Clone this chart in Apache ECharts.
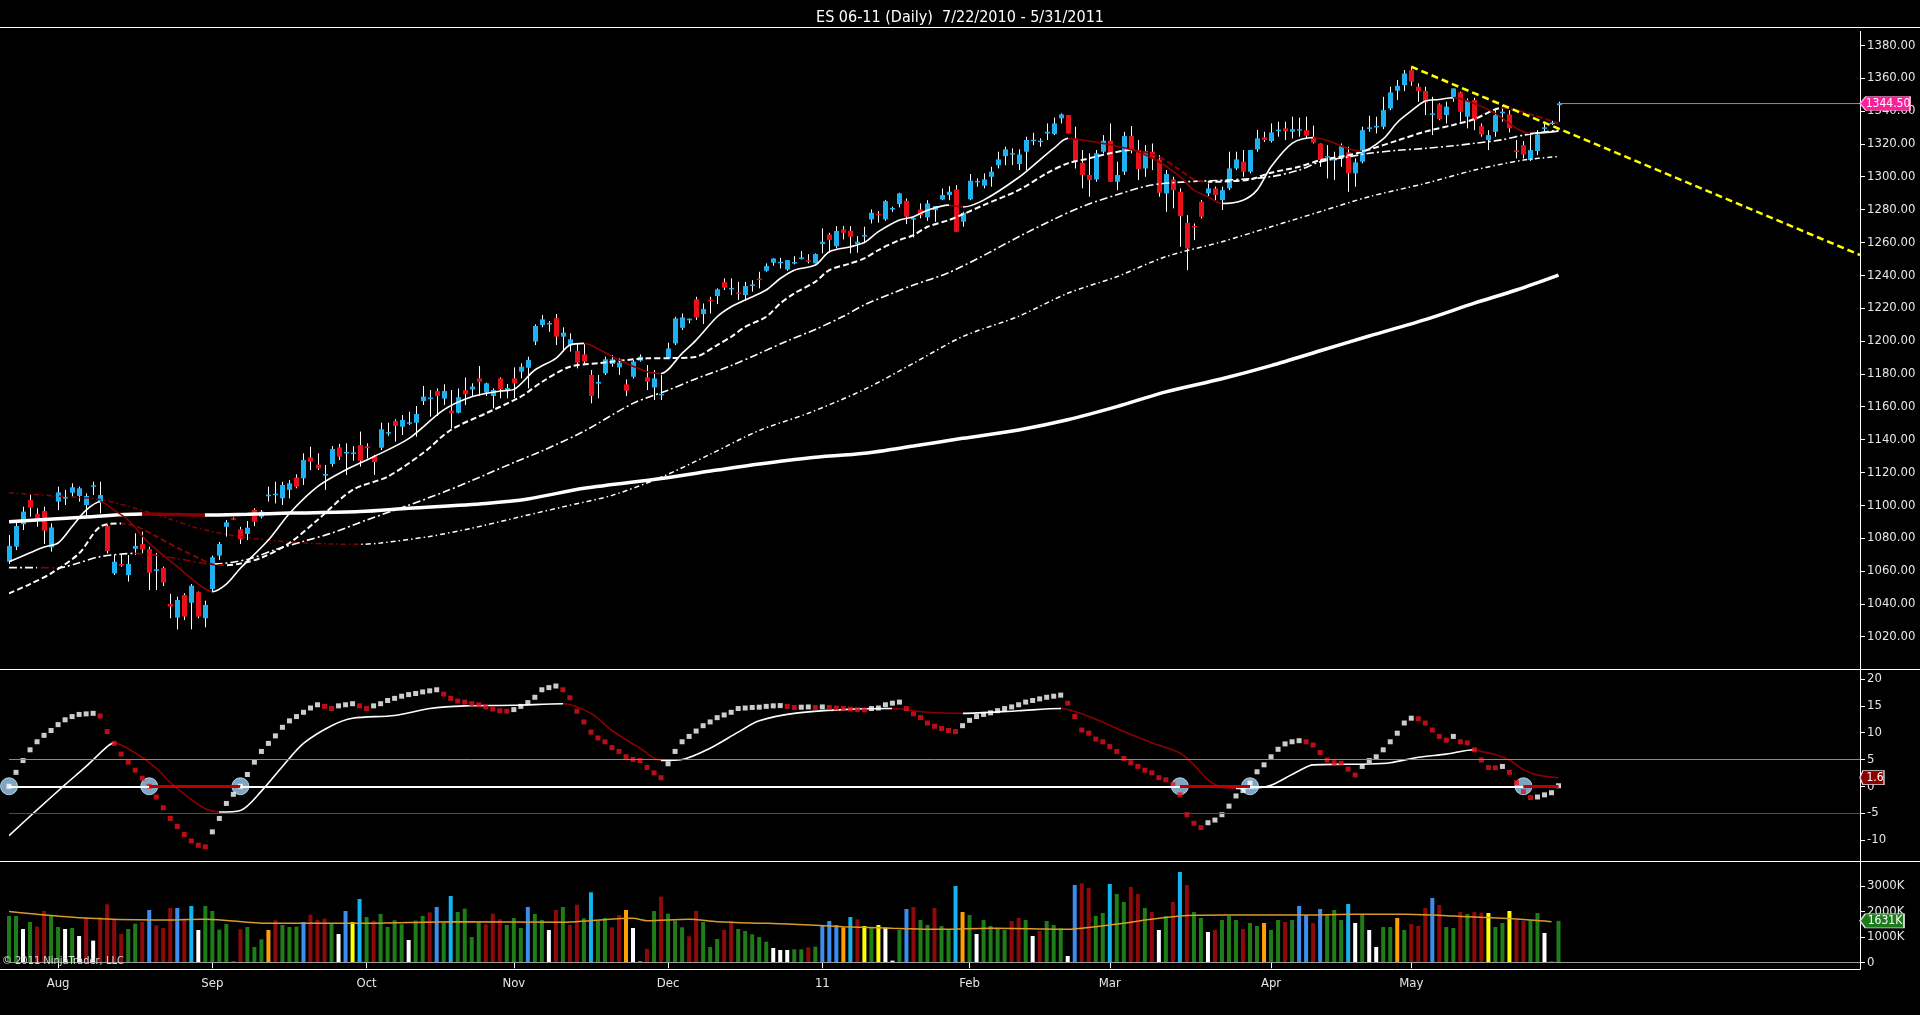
<!DOCTYPE html>
<html>
<head>
<meta charset="utf-8">
<title>ES 06-11 (Daily)</title>
<script src="https://cdn.jsdelivr.net/npm/echarts@6/dist/echarts.min.js"></script>
<style>
  html, body { margin: 0; padding: 0; background: #000; }
  #chart { width: 1920px; height: 1015px; }
</style>
</head>
<body>
<div id="chart"></div>
<script type="text/javascript">
var FONT = "'Liberation Sans Narrow', 'DejaVu Sans Condensed', 'Liberation Sans', Arial, sans-serif";

// sessions shown on the chart (CME holidays with a Globex session are kept)
var firstDay = '2010-07-22', lastDay = '2011-05-31';
var closedDays = ['2010-12-24', '2011-04-22'];
var axisEnd = 264;

var open = [
  1065.6,1074.8,1088.4,1103.2,1094.7,1096.5,1074.4,1102.2,1104.0,1107.6,
  1105.6,1100.1,1111.7,1102.2,1087.3,1058.5,1064.2,1057.5,1073.5,1076.4,
  1073.3,1060.0,1061.8,1039.9,1031.6,1045.4,1040.7,1047.0,1031.2,1049.0,
  1069.3,1086.9,1092.0,1085.3,1082.5,1097.1,1093.0,1106.0,1106.6,1104.2,
  1109.3,1116.8,1116.4,1129.1,1124.7,1118.0,1125.1,1135.2,1132.0,1131.8,
  1136.6,1135.8,1130.0,1135.0,1144.0,1151.3,1147.8,1150.0,1150.2,1163.4,
  1165.0,1169.5,1164.9,1157.6,1156.3,1170.1,1170.5,1177.2,1168.5,1166.5,
  1177.2,1170.1,1177.2,1181.3,1183.7,1199.6,1209.7,1210.5,1213.8,1202.6,
  1197.5,1193.9,1191.8,1179.3,1174.0,1180.3,1186.0,1183.9,1173.6,1178.2,
  1188.0,1177.8,1171.7,1167.4,1189.4,1198.5,1208.0,1213.1,1225.3,1216.4,
  1225.1,1227.3,1235.8,1232.0,1229.5,1227.9,1234.0,1238.0,1242.7,1247.6,
  1247.8,1243.5,1247.6,1250.4,1249.0,1247.2,1259.0,1264.8,1257.7,1267.9,
  1267.1,1258.9,1264.0,1274.0,1277.4,1274.0,1280.5,1283.3,1285.3,1274.0,
  1280.0,1275.2,1279.6,1286.1,1288.8,1292.2,1272.6,1286.2,1297.0,1294.5,
  1299.9,1307.0,1312.5,1314.0,1307.7,1315.2,1322.1,1321.5,1326.3,1325.9,
  1335.5,1337.5,1323.3,1308.5,1301.0,1298.3,1315.2,1321.9,1296.9,1303.0,
  1324.7,1316.2,1305.0,1315.2,1310.5,1289.8,1298.3,1290.8,1271.9,1270.0,
  1284.7,1289.8,1292.8,1285.7,1292.9,1305.0,1309.1,1303.0,1316.6,1323.9,
  1321.7,1328.2,1329.4,1327.3,1328.5,1328.3,1324.3,1320.2,1312.0,1310.0,
  1311.1,1314.8,1302.0,1309.1,1329.6,1330.5,1330.4,1341.5,1352.3,1355.7,
  1364.9,1354.7,1352.1,1338.0,1344.0,1337.5,1348.6,1351.3,1336.5,1346.6,
  1330.8,1322.3,1327.3,1339.0,1337.9,1316.0,1319.2,1310.1,1315.6,1329.4,
  1332.0,1343.5
];
var high = [
  1081.9,1091.0,1099.1,1106.2,1098.1,1099.1,1089.0,1111.3,1109.3,1113.3,
  1111.3,1107.2,1114.3,1114.3,1088.0,1069.7,1069.7,1069.7,1082.9,1083.9,
  1074.8,1071.0,1062.6,1046.0,1044.3,1046.4,1052.0,1047.4,1041.9,1069.3,
  1077.6,1091.0,1092.5,1086.9,1090.4,1098.1,1097.1,1111.3,1114.3,1114.3,
  1115.3,1118.8,1131.6,1135.6,1131.6,1124.5,1136.0,1137.3,1137.7,1136.0,
  1144.8,1137.7,1130.6,1150.2,1150.2,1152.3,1154.9,1156.9,1160.4,1172.6,
  1170.1,1171.1,1173.6,1170.1,1171.1,1177.8,1174.2,1184.7,1174.6,1171.1,
  1177.8,1173.8,1183.9,1186.4,1190.4,1210.1,1215.8,1212.1,1216.4,1208.3,
  1204.6,1198.5,1198.5,1182.3,1179.3,1190.4,1191.4,1189.4,1176.6,1188.4,
  1191.8,1185.3,1182.3,1179.2,1198.9,1214.7,1216.7,1213.7,1226.9,1222.8,
  1226.9,1232.0,1238.1,1238.1,1236.0,1236.0,1237.0,1242.1,1247.2,1250.2,
  1250.6,1249.2,1251.6,1254.7,1252.8,1253.3,1268.5,1265.8,1269.9,1269.9,
  1269.9,1263.8,1269.5,1280.1,1279.0,1285.7,1281.7,1290.2,1286.7,1275.2,
  1283.7,1285.7,1282.1,1292.8,1294.2,1294.9,1278.6,1301.6,1298.9,1302.0,
  1306.0,1315.2,1318.2,1317.2,1316.6,1324.3,1326.7,1323.3,1332.4,1335.9,
  1338.5,1337.5,1330.4,1316.2,1314.2,1316.2,1325.3,1332.4,1309.1,1327.3,
  1330.8,1322.3,1319.2,1320.2,1313.1,1304.0,1299.9,1292.9,1276.6,1271.5,
  1285.7,1295.9,1293.9,1293.9,1315.2,1315.2,1316.2,1316.2,1328.4,1327.3,
  1332.4,1333.4,1333.4,1336.5,1335.9,1336.5,1331.0,1320.2,1319.2,1315.2,
  1320.2,1318.2,1311.1,1330.4,1337.1,1336.5,1348.6,1354.7,1358.8,1364.9,
  1366.9,1356.8,1354.7,1348.6,1344.6,1345.6,1353.7,1351.7,1347.6,1348.0,
  1332.4,1328.3,1340.5,1343.6,1340.5,1322.3,1321.7,1325.3,1328.3,1333.4,
  1334.0,1345.6
];
var low = [
  1064.2,1072.7,1084.9,1093.0,1086.9,1076.4,1071.7,1097.1,1100.1,1105.2,
  1102.2,1093.0,1106.2,1095.1,1070.7,1057.5,1062.6,1053.5,1069.7,1070.7,
  1048.4,1048.4,1050.8,1031.2,1024.4,1030.1,1024.4,1031.2,1025.7,1047.4,
  1066.7,1080.9,1091.0,1076.4,1078.8,1087.3,1092.0,1102.2,1101.1,1100.1,
  1104.2,1110.3,1112.3,1121.4,1121.4,1109.3,1123.5,1127.5,1118.4,1127.1,
  1123.5,1128.5,1118.4,1133.6,1142.3,1138.7,1142.7,1148.8,1141.7,1161.0,
  1153.9,1154.3,1161.0,1146.8,1155.9,1161.0,1166.5,1166.5,1166.5,1159.0,
  1165.1,1165.1,1165.1,1177.2,1171.1,1197.5,1208.3,1205.6,1197.5,1193.5,
  1193.5,1183.3,1185.3,1162.0,1165.1,1179.3,1184.3,1179.3,1166.5,1177.2,
  1187.4,1170.1,1164.0,1164.0,1189.4,1197.5,1206.6,1210.7,1212.7,1210.3,
  1216.7,1222.4,1231.0,1227.9,1224.9,1224.3,1230.0,1232.0,1242.1,1245.8,
  1244.1,1242.7,1246.6,1249.6,1247.2,1247.2,1253.3,1253.7,1256.3,1261.8,
  1253.3,1253.7,1259.4,1271.5,1272.0,1273.1,1278.6,1281.3,1271.1,1263.0,
  1274.6,1273.1,1272.5,1285.7,1285.7,1266.5,1269.5,1285.7,1293.9,1292.9,
  1293.9,1305.0,1307.0,1307.0,1304.0,1304.0,1319.2,1318.2,1322.3,1325.3,
  1332.4,1326.3,1305.0,1292.9,1287.8,1296.9,1314.2,1296.9,1291.8,1301.0,
  1314.2,1297.9,1299.9,1304.0,1287.8,1278.6,1280.7,1257.3,1243.1,1261.4,
  1274.6,1288.2,1285.7,1279.7,1291.8,1304.0,1299.9,1302.0,1315.2,1321.2,
  1320.8,1324.3,1322.3,1323.3,1324.3,1323.3,1320.2,1306.0,1298.9,1297.9,
  1306.0,1290.8,1293.9,1308.1,1327.3,1326.3,1329.0,1340.5,1346.6,1352.1,
  1355.3,1345.6,1337.5,1325.3,1334.4,1332.4,1345.6,1333.4,1329.4,1328.3,
  1324.3,1316.2,1324.3,1333.4,1326.9,1311.1,1311.1,1309.5,1313.1,1326.9,
  1331.5,1333.4
];
var close = [
  1075.2,1087.3,1096.1,1098.5,1091.6,1084.5,1086.5,1107.8,1105.0,1110.9,
  1110.3,1105.6,1112.1,1106.2,1072.1,1065.6,1063.4,1064.2,1075.2,1073.1,
  1058.9,1061.0,1052.9,1038.3,1042.3,1032.2,1051.0,1032.2,1039.3,1068.3,
  1076.4,1089.6,1091.4,1079.2,1086.3,1090.0,1096.1,1106.4,1107.0,1112.3,
  1113.3,1111.3,1127.5,1126.5,1122.5,1119.0,1134.2,1129.5,1132.4,1132.1,
  1127.1,1134.8,1126.3,1146.2,1144.5,1148.2,1151.9,1150.5,1155.5,1166.1,
  1165.5,1166.5,1169.5,1155.9,1165.7,1167.5,1172.2,1175.2,1174.2,1170.1,
  1170.7,1171.3,1174.2,1184.3,1188.4,1209.1,1213.1,1210.9,1202.6,1205.0,
  1201.0,1186.8,1187.4,1166.5,1175.0,1188.8,1188.8,1186.8,1169.7,1187.4,
  1190.4,1175.2,1177.2,1167.8,1195.4,1213.7,1214.3,1213.5,1214.3,1219.4,
  1224.9,1231.4,1232.4,1232.3,1229.1,1233.4,1234.4,1237.6,1245.6,1250.2,
  1248.2,1249.2,1248.0,1250.8,1248.6,1252.9,1260.4,1261.4,1266.9,1265.8,
  1263.4,1260.4,1264.4,1278.0,1277.0,1285.1,1280.9,1289.8,1275.6,1274.8,
  1276.6,1283.7,1282.1,1288.8,1290.8,1266.5,1278.0,1297.5,1297.4,1298.3,
  1303.0,1310.5,1316.6,1314.3,1313.5,1322.3,1322.5,1321.9,1327.3,1332.4,
  1337.9,1326.3,1309.1,1301.0,1297.9,1314.2,1321.9,1296.9,1301.0,1324.7,
  1316.2,1304.6,1315.6,1311.1,1290.2,1301.6,1291.8,1276.0,1256.3,1269.5,
  1275.6,1292.8,1288.8,1291.8,1305.0,1310.5,1303.0,1316.2,1323.3,1322.3,
  1326.9,1328.6,1327.7,1328.9,1328.9,1324.9,1320.8,1310.1,1312.5,1310.8,
  1318.8,1302.0,1308.7,1328.3,1330.0,1330.9,1340.5,1351.3,1355.3,1362.8,
  1357.8,1352.1,1345.2,1338.5,1335.0,1342.6,1353.7,1339.5,1346.0,1334.4,
  1325.7,1325.3,1337.5,1339.5,1329.4,1315.0,1313.5,1316.2,1325.7,1330.0,
  1333.0,1344.5
];

// moving averages as [bar, value]
var ma10 = [[0,1065.6],[3,1071],[5,1074.5],[7,1077],[9,1087],[11,1097],[13,1102.1],[15,1097],[17,1091],[20,1076.8],
  [24,1062.6],[27,1052],[29,1047.4],[31,1052],[33,1061.6],[37,1078.8],[40,1095],[44,1111.3],[48,1121.4],[52,1129.5],
  [57,1140.5],[62,1158],[66,1166],[70,1169.5],[72,1170.5],[75,1182.3],[78,1189.4],[80,1197.5],[82,1198.5],[85,1193],
  [87,1188.4],[91,1181.3],[93,1180.2],[96,1192.4],[98,1200.5],[101,1214.7],[103,1220.8],[105,1224.9],[108,1231],[110,1238],
  [112,1243.1],[115,1246.2],[117,1254.3],[120,1257.3],[122,1260],[124,1266.5],[127,1273.6],[129,1275.6],[131,1279.6],[134,1282.7],
  [135,1282.1],[136,1281.5],[139,1285.7],[144,1299.5],[147,1310.1],[149,1317.2],[151,1323.3],[153,1322.3],[156,1320.2],[158,1318.6],
  [161,1315.2],[164,1309.1],[167,1300],[169,1291.8],[171,1287.8],[173,1283.7],[176,1285.7],[178,1291.8],[180,1306],[183,1320.3],
  [186,1323.8],[188,1322],[191,1317.2],[193,1315.5],[196,1323],[198,1333],[200,1340],[202,1346],[204,1347],[206,1348],
  [209,1344.6],[212,1338.5],[215,1329.5],[217,1326.3],[219,1326.8],[221,1327.7]];
var ma20 = [[0,1046.3],[3,1052],[6,1058.5],[10,1070.7],[13,1086.9],[16,1088.9],[18,1087.4],[21,1081],[24,1074],[27,1068],
  [29,1064.0],[31,1063.5],[33,1064.5],[36,1068],[40,1077],[44,1091],[49,1109.3],[54,1117.4],[59,1131.6],[63,1145.8],
  [68,1155.9],[73,1166.1],[76,1175],[80,1184.3],[84,1186.4],[91,1189.4],[95,1189.6],[98,1190.4],[101,1197.5],[103,1202.5],
  [105,1208.6],[108,1214.7],[110,1222.8],[112,1228.9],[115,1236],[117,1243.1],[120,1247.2],[122,1250.2],[124,1255.3],[127,1261.4],
  [129,1264.4],[131,1269.5],[134,1273.5],[136,1277],[139,1282.7],[144,1291.8],[148,1302],[151,1308.1],[154,1311.1],[157,1314.2],
  [160,1316.2],[164,1312.1],[167,1304],[169,1298.3],[171,1296.9],[174,1297.2],[177,1298.3],[180,1302.4],[184,1306],[187,1310],
  [191,1313],[194,1316.5],[198,1322],[202,1327.4],[206,1331.5],[209,1335],[213,1341.9],[217,1338],[221,1332.4]];
var ma50 = [[0,1062.0],[4,1062.0],[7,1061.9],[10,1065],[13,1068.7],[18,1070.7],[24,1067.5],[29,1064.2],[34,1067],[38,1073],
  [42,1078],[46,1083],[51,1091],[57,1100],[62,1108],[66,1115],[72,1126],[76,1133],[82,1145],[89,1162],
  [94,1170],[98,1177],[103,1185],[107,1192.4],[111,1200],[115,1207],[119,1215],[122,1222],[126,1229],[129,1234],
  [134,1241.5],[139,1252],[144,1263.4],[149,1274],[153,1281.7],[158,1289],[163,1294.9],[168,1296.9],[174,1298],[180,1300],
  [184,1304],[187,1309],[191,1312],[194,1314.2],[198,1316],[202,1317.2],[206,1318.8],[209,1320.3],[213,1322.5],[216,1325.3],[221,1328.4]];
var ma100 = [[0,1107.6],[8,1105.2],[13,1103.5],[18,1098.1],[23,1091.5],[27,1085.9],[32,1081.5],[37,1078.8],[42,1077],[46,1076.4],
  [50,1076.2],[53,1077],[60,1081],[66,1086],[72,1092],[79,1099],[86,1106],[93,1117],[100,1131],[107,1145.5],
  [114,1156],[122,1170.5],[129,1186.4],[136,1202.6],[144,1215],[151,1229],[158,1239.1],[165,1251.3],[173,1260.4],[180,1269.5],
  [187,1278.7],[194,1287.8],[202,1295.9],[209,1304],[216,1310.1],[221,1312.2]];
var ma200 = [[0,1090.0],[10,1092.5],[19,1094.6],[24,1094.3],[28,1094.0],[34,1094.5],[40,1095.2],[50,1096.1],[57,1098.1],[68,1101.1],
  [74,1103.8],[82,1110.3],[93,1116.3],[101,1121.4],[107,1125.1],[114,1128.8],[122,1131.6],[129,1136],[136,1140.7],[144,1145.8],
  [151,1152],[158,1160],[165,1169],[173,1177],[180,1185],[187,1194],[194,1203],[202,1213],[209,1223],[215,1231],[221,1240.1]];

var trendPts = [[200, 1366.9], [264, 1252.3]];
var priceTicks = [1020,1040,1060,1080,1100,1120,1140,1160,1180,1200,1220,1240,1260,1280,1300,1320,1340,1360,1380];

// oscillator, one value per bar
var osc = [
  0.0,2.6,4.8,6.8,8.3,9.5,10.4,11.5,12.4,13.0,
  13.4,13.5,13.6,13.1,10.2,8.0,6.0,4.5,3.0,1.5,
  0.0,-2.0,-4.0,-6.0,-7.5,-9.0,-10.2,-11.0,-11.3,-8.5,
  -6.0,-3.2,-1.5,0.0,2.2,4.5,6.5,8.0,9.4,11.0,
  12.2,13.0,13.8,14.6,15.2,14.9,14.5,15.0,15.2,15.4,
  15.0,14.5,15.0,15.4,16.0,16.4,16.8,17.1,17.3,17.6,
  17.8,18.0,17.2,16.4,15.9,15.7,15.4,15.2,14.8,14.4,
  14.1,14.0,14.3,14.9,15.6,16.6,18.0,18.4,18.7,18.0,
  16.5,14.0,12.0,10.1,9.0,8.3,7.2,6.5,5.5,5.0,
  4.8,3.5,2.5,1.6,4.2,6.5,8.3,9.3,10.3,11.3,
  12.0,12.8,13.3,13.8,14.5,14.6,14.7,14.75,14.9,15.0,
  15.05,14.9,14.7,14.75,14.8,14.7,14.8,14.7,14.6,14.5,
  14.4,14.3,14.25,14.5,14.6,15.2,15.5,15.7,14.5,13.5,
  12.8,11.8,11.2,10.8,10.4,10.2,11.3,12.3,13.0,13.4,
  13.7,14.1,14.5,14.8,15.2,15.7,16.0,16.3,16.6,16.8,
  17.0,15.5,13.0,10.5,9.9,8.8,8.3,7.4,6.5,5.2,
  4.4,3.7,3.0,2.5,1.6,1.2,0.3,-1.6,-5.3,-6.9,
  -7.7,-6.8,-6.3,-5.3,-3.7,-1.8,-0.8,0.6,2.7,4.0,
  5.5,6.9,7.9,8.3,8.5,8.3,7.7,6.3,4.9,4.4,
  4.3,3.2,2.1,3.7,4.8,5.5,6.8,8.3,9.9,11.8,
  12.7,12.6,11.8,10.5,9.3,8.6,9.3,8.3,8.1,6.8,
  4.9,3.5,3.45,3.7,2.6,0.7,-1.0,-2.1,-2.0,-1.6,
  -1.2,0.1
];
var signal = [[0,-9.2],[4,-4.4],[8,0.3],[11,3.7],[14,7.4],[15,8.1],[18,6.2],[21,3.4],[23,0.7],[26,-2.5],
  [28,-4.2],[30,-4.8],[33,-4.5],[36,-0.9],[39,3.7],[42,8.0],[46,11.3],[49,12.7],[55,13.2],[60,14.5],
  [65,15.0],[72,15.1],[79,15.4],[83,13.6],[86,10.4],[90,7.1],[93,4.8],[96,5.0],[100,7.1],[104,10.1],
  [107,12.2],[112,13.6],[119,14.3],[126,14.5],[131,13.8],[136,13.6],[144,14.1],[150,14.5],[155,12.5],[159,10.2],
  [163,8.1],[167,6.2],[169,4.0],[171,1.2],[173,-0.2],[175,-0.4],[178,-0.3],[180,0.2],[182,1.5],[184,2.9],
  [186,4.0],[190,4.1],[194,4.15],[197,4.4],[201,5.4],[205,6.0],[209,6.8],[210,6.5],[212,5.9],[214,4.9],
  [216,3.1],[218,2.1],[221,1.6]];
var zeroCross = [0, 20, 33, 167, 177, 216];
var oscTicks = [-10, -5, 0, 5, 10, 15, 20];

// volume in thousands, colour code per bar
var vol = [
  1823,1823,1311,1587,1403,2020,1836,1390,1311,1350,
  1036,1770,852,1770,2282,1665,1114,1311,1521,1587,
  2059,1456,1350,2138,2138,1718,2216,1272,2216,2020,
  1285,1508,40,1298,1390,603,905,1272,1652,1469,
  1390,1403,1587,1875,1665,1718,1508,1114,2020,1587,
  2492,1783,1639,1902,1390,1652,1495,878,1639,1823,
  1967,2177,1560,2610,1980,2112,996,1574,1495,1915,
  1692,1469,1744,1350,2177,1902,1665,1272,2059,2177,
  1469,2269,1731,2754,1652,1744,1377,1862,2059,1350,
  30,537,2020,2584,1915,1639,1377,1023,2020,1587,
  603,918,1272,1600,1311,1233,1101,996,813,563,
  485,485,511,511,590,616,1429,1626,1469,1377,
  1783,1692,1429,1377,1469,1364,66,1272,2098,2177,
  1665,1469,2138,1429,1272,3004,1980,1862,1114,1665,
  1429,1364,1272,1626,1744,1665,1036,1233,1626,1469,
  1338,249,3043,3109,2925,1823,1941,3082,2689,2374,
  2964,2689,2138,1980,1272,1823,2374,3555,3043,1980,
  1744,1193,1272,1665,1823,1665,1311,1547,1429,1547,
  1272,1665,1587,1665,2216,1862,1547,2098,1862,2059,
  1665,2295,1547,1862,1272,603,1390,1390,1744,1272,
  1508,1429,2138,2531,2256,1390,1350,1980,1902,1980,
  1954,1941,1390,1547,2020,1665,1626,1665,1941,1154,
  20,1631
];
var volKind = ('ggwgrrggwg' + 'wrwrrrrggr' + 'brrrbrcwgg' + 'gggrgggorg' + 'ggbrrrgwby' +
  'cgrggggwgg' + 'rbgcggggrr' + 'rgggbggwrg' + 'rrgcggrrow' + 'wrgrgggrrg' +
  'ggrrgggggw' + 'wwggrgbbbo' + 'crygywwgbr' + 'ggrggcogwg' + 'gggrrgwrgg' +
  'gwbrrggcgg' + 'rrgrwgrcrg' + 'gwrgggrggo' + 'ggrgbbrbgg' + 'gcwgwwggog' +
  'rrrbrggrgr' + 'ryggyrrggw' + 'wg').split('');
var volMA = [[0,2000],[10,1756],[21,1666],[28,1692],[37,1534],[50,1534],[64,1600],[79,1574],[83,1639],[89,1731],
  [91,1639],[97,1692],[101,1600],[108,1534],[111,1508],[119,1403],[126,1338],[133,1298],[140,1338],[148,1311],
  [151,1298],[155,1403],[159,1534],[162,1665],[167,1823],[170,1849],[177,1862],[184,1862],[192,1889],[199,1889],
  [203,1862],[206,1823],[210,1770],[213,1731],[217,1665],[220,1600]];
var volTicks = [0, 1000, 2000, 3000];

var UP = '#1EB0F0', DOWN = '#E8101A', MA_UP = '#FFFFFF', MA_DN = '#8B0000';
var volColors = { g: '#1E7D16', r: '#8C0A0A', b: '#3A8EF0', c: '#12B4F0', w: '#FFFFFF', y: '#FFFF00', o: '#FFA000' };

var dates = [];
var d = new Date(firstDay + 'T00:00:00Z'), stop = new Date(lastDay + 'T00:00:00Z');
while (d <= stop) {
  var key = d.toISOString().slice(0, 10);
  if (d.getUTCDay() !== 0 && d.getUTCDay() !== 6 && closedDays.indexOf(key) < 0) dates.push(key);
  d.setUTCDate(d.getUTCDate() + 1);
}
var N = dates.length;
var cats = dates.slice();
for (var p = N; p <= axisEnd; p++) cats.push('pad' + p);

var MON = ['Jan','Feb','Mar','Apr','May','Jun','Jul','Aug','Sep','Oct','Nov','Dec'];
var monthStart = {};
for (var k = 1; k < N; k++) {
  if (dates[k].slice(5, 7) !== dates[k - 1].slice(5, 7)) {
    var m = +dates[k].slice(5, 7);
    monthStart[k] = m === 1 ? dates[k].slice(2, 4) : MON[m - 1];
  }
}
function isMonthStart(idx) { return monthStart[idx] !== undefined; }

function slopePieces(pts) {
  var pieces = [];
  for (var j = 0; j < pts.length - 1; j++) {
    var pc = { gte: pts[j][0], color: pts[j + 1][1] >= pts[j][1] ? MA_UP : MA_DN };
    if (j === pts.length - 2) pc.lte = pts[j + 1][0]; else pc.lt = pts[j + 1][0];
    pieces.push(pc);
  }
  return pieces;
}

var TAG = 'path://M0,6L6,0L50,0L50,12L6,12Z';
function tag(y, text, color, border, w) {
  return {
    coord: [axisEnd, y], symbol: TAG, symbolSize: [w, 14], symbolOffset: [w / 2, 0],
    itemStyle: { color: color, borderColor: border, borderWidth: 1 },
    label: { show: true, position: 'inside', formatter: text, color: '#fff', fontSize: 12, fontFamily: FONT, offset: [3, 0] }
  };
}

function renderCandle(params, api) {
  var i = api.value(0);
  var o = api.value(1), c = api.value(2), l = api.value(3), h = api.value(4);
  var pO = api.coord([i, o]), pC = api.coord([i, c]), pL = api.coord([i, l]), pH = api.coord([i, h]);
  var x = Math.round(pO[0]) + 0.5;
  var top = Math.min(pO[1], pC[1]), bot = Math.max(pO[1], pC[1]);
  if (bot - top < 1.5) bot = top + 1.5;
  return {
    type: 'group',
    children: [
      { type: 'line', shape: { x1: x, y1: pH[1], x2: x, y2: pL[1] }, style: { stroke: '#FFFFFF', lineWidth: 1 } },
      { type: 'rect', shape: { x: x - 2.5, y: top, width: 5, height: bot - top }, style: { fill: c >= o ? UP : DOWN } }
    ]
  };
}

var candleData = [];
for (var i = 0; i < N; i++) candleData.push([i, open[i], close[i], low[i], high[i]]);

var oscDots = osc.map(function (v, j) {
  var rising = j === 0 || v > osc[j - 1];
  return { value: [j, v], itemStyle: { color: rising ? '#FFFFFF' : '#E8101A' } };
});

var zeroSegs = [];
for (var z = 0; z < zeroCross.length; z++) {
  var below = z % 2 === 1;
  var b = z + 1 < zeroCross.length ? zeroCross[z + 1] : N - 1;
  zeroSegs.push([
    { coord: [zeroCross[z], 0], lineStyle: { color: below ? '#C00000' : '#FFFFFF', width: below ? 3 : 2, type: 'solid' } },
    { coord: [b, 0] }
  ]);
}

var volData = vol.map(function (v, j) {
  return { value: v, itemStyle: { color: volColors[volKind[j]] } };
});

var lastClose = close[N - 1];
var lastSignal = signal[signal.length - 1][1];
var lastVol = vol[N - 1];

function maSeries(pts, style) {
  return {
    type: 'line', xAxisIndex: 0, yAxisIndex: 0, data: pts, showSymbol: false, smooth: 0.3,
    lineStyle: style, z: 3, silent: true
  };
}

var axisText = { color: '#E6E6E6', fontSize: 13, fontFamily: FONT };

var chart = echarts.init(document.getElementById('chart'));
chart.setOption({
  backgroundColor: '#000000',
  animation: false,
  title: {
    text: 'ES 06-11 (Daily)  7/22/2010 - 5/31/2011',
    left: 'center', top: 5,
    textStyle: { color: '#FFFFFF', fontSize: 16, fontWeight: 'normal', fontFamily: FONT }
  },
  grid: [
    { left: 9, right: 60, top: 27, height: 642 },
    { left: 9, right: 60, top: 671, height: 189 },
    { left: 9, right: 60, top: 863.2, height: 99.1 }
  ],
  xAxis: [
    { type: 'category', gridIndex: 0, data: cats, boundaryGap: false, show: false },
    { type: 'category', gridIndex: 1, data: cats, boundaryGap: false, show: false },
    {
      type: 'category', gridIndex: 2, data: cats, boundaryGap: false, offset: 7,
      axisLine: { show: false },
      axisTick: { interval: isMonthStart, length: 6, lineStyle: { color: '#FFFFFF' } },
      axisLabel: {
        interval: isMonthStart, margin: 8, color: axisText.color, fontSize: 13, fontFamily: FONT,
        formatter: function (val, idx) { return monthStart[idx] || ''; }
      },
      splitLine: { show: false }
    }
  ],
  yAxis: [
    {
      type: 'value', gridIndex: 0, position: 'right', min: 1000.3, max: 1391.1,
      axisLine: { show: false }, splitLine: { show: false },
      axisTick: { show: true, customValues: priceTicks, length: 5, lineStyle: { color: '#FFFFFF' } },
      axisLabel: { customValues: priceTicks, margin: 7, color: axisText.color, fontSize: 13, fontFamily: FONT,
        formatter: function (v) { return v.toFixed(2); } }
    },
    {
      type: 'value', gridIndex: 1, position: 'right', min: -13.75, max: 21.5,
      axisLine: { show: false }, splitLine: { show: false },
      axisTick: { show: true, customValues: oscTicks, length: 5, lineStyle: { color: '#FFFFFF' } },
      axisLabel: { customValues: oscTicks, margin: 7, color: axisText.color, fontSize: 13, fontFamily: FONT }
    },
    {
      type: 'value', gridIndex: 2, position: 'right', min: 0, max: 3900,
      axisLine: { show: false }, splitLine: { show: false },
      axisTick: { show: true, customValues: volTicks, length: 5, lineStyle: { color: '#FFFFFF' } },
      axisLabel: { customValues: volTicks, margin: 7, color: axisText.color, fontSize: 13, fontFamily: FONT,
        formatter: function (v) { return v === 0 ? '0' : v + 'K'; } }
    }
  ],
  visualMap: [
    { type: 'piecewise', show: false, dimension: 0, seriesIndex: 1, pieces: slopePieces(ma200) },
    { type: 'piecewise', show: false, dimension: 0, seriesIndex: 2, pieces: slopePieces(ma100) },
    { type: 'piecewise', show: false, dimension: 0, seriesIndex: 3, pieces: slopePieces(ma50) },
    { type: 'piecewise', show: false, dimension: 0, seriesIndex: 4, pieces: slopePieces(ma20) },
    { type: 'piecewise', show: false, dimension: 0, seriesIndex: 5, pieces: slopePieces(ma10) },
    { type: 'piecewise', show: false, dimension: 0, seriesIndex: 8, pieces: slopePieces(signal) }
  ],
  graphic: [
    { type: 'line', silent: true, shape: { x1: 0, y1: 27.5, x2: 1920, y2: 27.5 }, style: { stroke: '#FFFFFF', lineWidth: 1 } },
    { type: 'line', silent: true, shape: { x1: 0, y1: 669.5, x2: 1920, y2: 669.5 }, style: { stroke: '#FFFFFF', lineWidth: 1 } },
    { type: 'line', silent: true, shape: { x1: 0, y1: 861.5, x2: 1920, y2: 861.5 }, style: { stroke: '#FFFFFF', lineWidth: 1 } },
    { type: 'line', silent: true, shape: { x1: 0, y1: 969.5, x2: 1860.5, y2: 969.5 }, style: { stroke: '#FFFFFF', lineWidth: 1 } },
    { type: 'line', silent: true, shape: { x1: 1860.5, y1: 31, x2: 1860.5, y2: 969.5 }, style: { stroke: '#FFFFFF', lineWidth: 1 } },
    { type: 'text', silent: true, left: 2, top: 956, z: 100,
      style: { text: '\u00A9 2011 NinjaTrader, LLC', fill: '#D8D8D8', font: '11px ' + FONT } }
  ],
  series: [
    {
      type: 'custom', xAxisIndex: 0, yAxisIndex: 0, data: candleData, renderItem: renderCandle,
      encode: { x: 0, y: [1, 2, 3, 4] }, z: 2, silent: true
    },
    maSeries(ma200, { width: 3.5, type: 'solid' }),
    maSeries(ma100, { width: 1.5, type: [5, 3, 1.5, 3] }),
    maSeries(ma50, { width: 1.6, type: [8, 3, 2, 3] }),
    maSeries(ma20, { width: 2, type: [6, 3] }),
    maSeries(ma10, { width: 1.6, type: 'solid' }),
    {
      type: 'line', xAxisIndex: 0, yAxisIndex: 0, data: trendPts, showSymbol: false, silent: true, z: 4,
      lineStyle: { color: '#FFFF00', width: 2.5, type: [7, 4] }
    },
    {
      type: 'line', xAxisIndex: 0, yAxisIndex: 0, showSymbol: false, silent: true, z: 4,
      data: [[N - 1, lastClose], [axisEnd, lastClose]],
      lineStyle: { color: '#8C8C8C', width: 1 },
      markPoint: { silent: true, animation: false, data: [tag(lastClose, lastClose.toFixed(2), '#FF1E9A', '#FFB0DA', 50)] }
    },
    {
      type: 'line', xAxisIndex: 1, yAxisIndex: 1, data: signal, showSymbol: false, smooth: 0.3, silent: true, z: 2,
      lineStyle: { width: 1.6 },
      markLine: {
        silent: true, symbol: 'none', animation: false, label: { show: false },
        data: [
          { yAxis: 5, lineStyle: { color: '#8A8A8A', width: 1, type: 'solid' } },
          { yAxis: -5, lineStyle: { color: '#7A3A3A', width: 1, type: 'solid' } }
        ].concat(zeroSegs)
      },
      markPoint: { silent: true, animation: false, data: [tag(lastSignal, lastSignal.toFixed(1), '#8E0000', '#E0E0E0', 24)] }
    },
    {
      type: 'scatter', xAxisIndex: 1, yAxisIndex: 1, silent: true, z: 3,
      data: zeroCross.map(function (x) { return [x, 0]; }),
      symbol: 'circle', symbolSize: 17,
      itemStyle: { color: '#9DCFF2', borderColor: '#CBE8FB', borderWidth: 1 }
    },
    {
      type: 'scatter', xAxisIndex: 1, yAxisIndex: 1, silent: true, z: 4,
      data: oscDots, symbol: 'rect', symbolSize: 5
    },
    {
      type: 'bar', xAxisIndex: 2, yAxisIndex: 2, data: volData, barWidth: 4, silent: true, z: 2,
      markLine: {
        silent: true, symbol: 'none', animation: false, label: { show: false },
        data: [{ yAxis: 0, lineStyle: { color: '#9A9A9A', width: 1, type: 'solid' } }]
      },
      markPoint: { silent: true, animation: false, data: [tag(lastVol, lastVol + 'K', '#1C7C1C', '#E0E0E0', 44)] }
    },
    {
      type: 'line', xAxisIndex: 2, yAxisIndex: 2, data: volMA, showSymbol: false, smooth: 0.3, silent: true, z: 3,
      lineStyle: { color: '#D99A2B', width: 1.5 }
    }
  ]
});
</script>
</body>
</html>
